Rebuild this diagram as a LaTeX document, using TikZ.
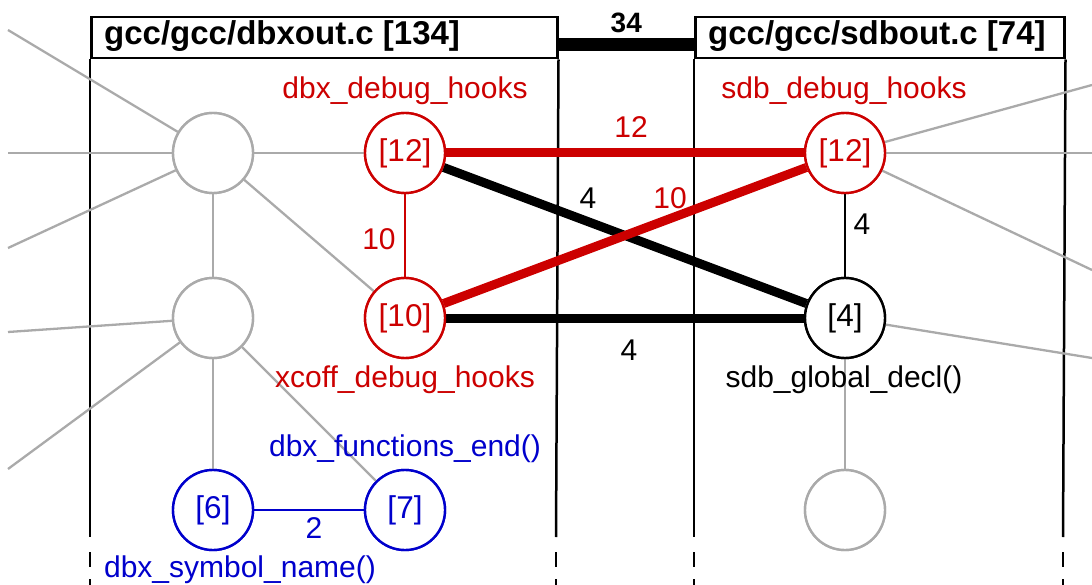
\documentclass[tikz,border=0pt]{standalone}
\usepackage{fontspec}
\setmainfont{Liberation Sans}
\definecolor{dred}{HTML}{CC0000}
\definecolor{dblue}{HTML}{0000CC}
\definecolor{lgray}{HTML}{AAAAAA}
\begin{document}
\begin{tikzpicture}[x=1pt,y=-1pt,
  txt/.style={font=\fontsize{30}{36}\selectfont},
  circ/.style={circle,draw,line width=2.4pt,minimum size=80pt,inner sep=0pt,fill=white,font=\fontsize{31.5}{36}\selectfont},
  graycirc/.style={circ,draw=lgray},
  redcirc/.style={circ,draw=dred,text=dred},
  bluecirc/.style={circ,draw=dblue,text=dblue},
  blackcirc/.style={circ,draw=black},
  lbl/.style={txt,inner sep=0pt,anchor=base},
  hdrbox/.style={draw=black,line width=2.5pt,minimum height=41pt,inner sep=0pt,anchor=north west},
  hdrtxt/.style={font=\fontsize{33}{38}\selectfont\bfseries,inner sep=0pt,anchor=base west},
  grayline/.style={draw=lgray,line width=2.3pt},
  thinred/.style={draw=dred,line width=2.3pt},
  thinblack/.style={draw=black,line width=2.3pt},
  thinblue/.style={draw=dblue,line width=2.3pt},
  thickred/.style={draw=dred,line width=9pt},
  thickblack/.style={draw=black,line width=9pt},
  frame/.style={draw=black,line width=2.5pt},
  framedash/.style={draw=black,line width=2.5pt,dash pattern=on 15pt off 12pt}]
\useasboundingbox (0,0) rectangle (1092,585);

% headers
\node[hdrbox,minimum width=466pt] (hL) at (90,16) {};
\node[hdrbox,minimum width=369pt] (hR) at (694,16) {};
\node[hdrtxt] (hLt) at (104,45) {gcc/gcc/dbxout.c [134]};
\node[hdrtxt] (hRt) at (708,45) {gcc/gcc/sdbout.c [74]};
\draw[line width=13pt] ([yshift=-6.5pt]hL.east) -- node[above=5pt,font=\fontsize{28}{32}\selectfont\bfseries,inner sep=0pt] (l34) {34} ([yshift=-6.5pt]hR.west);

% column lines
\draw[frame] (hL.south west) -- (90,537);
\draw[frame] (hL.south east) -- (556,537);
\draw[frame] (hR.south west) -- (694,537);
\draw[frame] (hR.south east) -- (1063,537);
\draw[framedash] (90,552) -- (90,585);
\draw[framedash] (556,552) -- (556,585);
\draw[framedash] (694,552) -- (694,585);
\draw[framedash] (1063,552) -- (1063,585);

% nodes
\node[graycirc] (A) at (213,153) {};
\node[graycirc] (B) at (213,318) {};
\node[redcirc] (L12) at (405,153) {[12]};
\node[redcirc] (L10) at (405,318) {[10]};
\node[bluecirc] (N6) at (213,510) {[6]};
\node[bluecirc] (N7) at (405,510) {[7]};
\node[redcirc] (R12) at (845,153) {[12]};
\node[blackcirc] (R4) at (845,318) {[4]};
\node[graycirc] (RG) at (845,510) {};

% free ends
\coordinate (e1) at (8,30);
\coordinate (e2) at (8,153);
\coordinate (e3) at (8,248);
\coordinate (e4) at (8,332);
\coordinate (e5) at (8,469);
\coordinate (f1) at (1092,85);
\coordinate (f2) at (1092,153);
\coordinate (f3) at (1092,270);
\coordinate (f4) at (1092,358);

% gray connectors
\draw[grayline] (A) -- (e1);
\draw[grayline] (A) -- (e2);
\draw[grayline] (A) -- (e3);
\draw[grayline] (A) -- (B);
\draw[grayline] (A) -- (L12);
\draw[grayline] (A) -- (L10);
\draw[grayline] (B) -- (e4);
\draw[grayline] (B) -- (e5);
\draw[grayline] (B) -- (N6);
\draw[grayline] (B) -- (N7);
\draw[grayline] (R12) -- (f1);
\draw[grayline] (R12) -- (f2);
\draw[grayline] (R12) -- (f3);
\draw[grayline] (R4) -- (f4);
\draw[grayline] (R4) -- (RG);

% colored connectors
\draw[thinred] (L12) -- (L10);
\draw[thinblack] (R12) -- (R4);
\draw[thinblue] (N6) -- (N7);
\draw[thickred] (L12) -- (R12);
\draw[thickblack] (L12) -- (R4);
\draw[thickblack] (L10) -- (R4);
\draw[thickred] (L10) -- (R12);

% redraw nodes on top
\node[graycirc] at (A) {};
\node[graycirc] at (B) {};
\node[redcirc] at (L12) {[12]};
\node[redcirc] at (L10) {[10]};
\node[bluecirc] at (N6) {[6]};
\node[bluecirc] at (N7) {[7]};
\node[redcirc] at (R12) {[12]};
\node[blackcirc] at (R4) {[4]};
\node[graycirc] at (RG) {};

% node labels
\node[lbl,text=dred] (t1) at (405,99) {dbx\_debug\_hooks};
\node[lbl,text=dred] (t2) at (844,99) {sdb\_debug\_hooks};
\node[lbl,text=dred] (t3) at (405,387) {xcoff\_debug\_hooks};
\node[lbl] (t4) at (844,387) {sdb\_global\_decl()};
\node[lbl,text=dblue] (t5) at (405,456) {dbx\_functions\_end()};
\node[lbl,text=dblue] (t6) at (240,577) {dbx\_symbol\_name()};

% edge weights
\node[lbl,text=dred] (w1) at (631,138) {12};
\node[lbl] (w2) at (588,209) {4};
\node[lbl,text=dred] (w3) at (670,209) {10};
\node[lbl] (w4) at (862,235) {4};
\node[lbl,text=dred] (w5) at (379,250) {10};
\node[lbl] (w6) at (629,360) {4};
\node[lbl,text=dblue] (w7) at (314,538) {2};
\end{tikzpicture}
\end{document}
